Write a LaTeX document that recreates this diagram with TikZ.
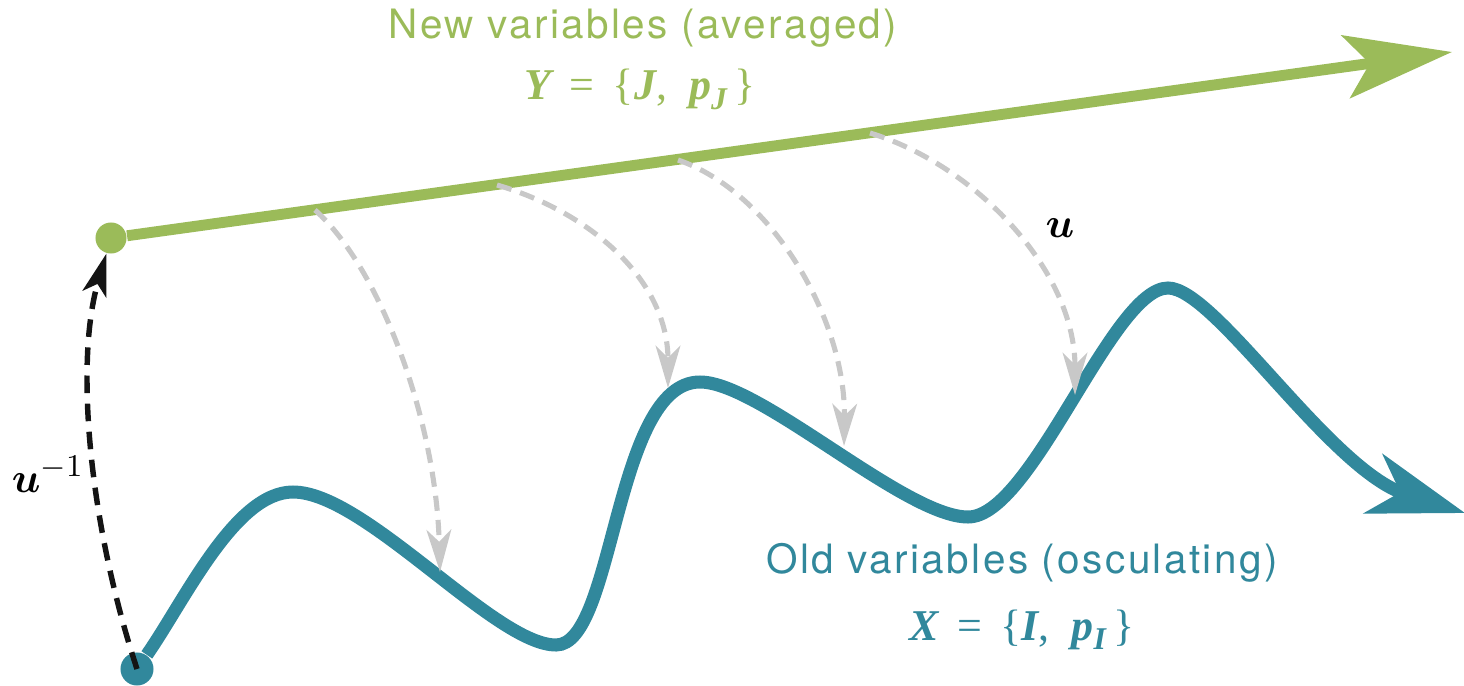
\documentclass[tikz,border=0pt]{standalone}
\usepackage{amsmath}
\usepackage{fontspec}
\setsansfont{TeX Gyre Heros}
\newfontfamily\tms{Liberation Serif}
\usetikzlibrary{arrows.meta}
\definecolor{cgreen}{RGB}{155,187,89}
\definecolor{cteal}{RGB}{49,136,156}
\definecolor{cgrey}{RGB}{200,200,200}
\definecolor{cblack}{RGB}{20,20,20}
\newcommand{\bi}[1]{{\bfseries\itshape #1}}
\newcommand{\bisub}[1]{\raisebox{-0.45ex}{\fontsize{9}{10}\selectfont\bi{#1}}}
\begin{document}
\begin{tikzpicture}[x=0.01cm,y=-0.01cm,
  dotnode/.style={circle,fill=#1,inner sep=0pt,minimum size=0.31cm},
  titletext/.style={anchor=base,font=\sffamily\fontsize{11.5}{13}\selectfont\addfontfeature{LetterSpace=6}},
  mathtext/.style={anchor=base,font=\tms\fontsize{12.5}{14}\selectfont},
  mapline/.style={draw=cgrey,line width=1.45pt,dash pattern=on 4.3pt off 2.6pt,
    -{Stealth[length=12pt,width=7pt,inset=3.4pt]}},
  invline/.style={draw=cblack,line width=1.55pt,dash pattern=on 5pt off 3pt,
    -{Stealth[length=12pt,width=7pt,inset=3pt]}},
  newline/.style={draw=cgreen,line width=3.1pt,
    -{Stealth[length=30.4pt,width=17.9pt,inset=6.8pt]}},
  oldline/.style={draw=cteal,line width=3.7pt,
    -{Stealth[length=27.3pt,width=17.6pt,inset=8pt]}}
]
\useasboundingbox (0,0) rectangle (1464,685);

% end points
\node[dotnode=cgreen] (gdot) at (111,238) {};
\node[dotnode=cteal,minimum size=0.33cm] (tdot) at (137,669) {};
\coordinate (gtip) at (1452,52);
\coordinate (ttip) at (1465,513);

% old variables curve
\draw[oldline] (tdot) .. controls (185,600) and (235,492) .. (293,492)
  .. controls (365,492) and (495,645) .. (556,645)
  .. controls (615,645) and (614,382) .. (700,382)
  .. controls (760,382) and (905,517) .. (968,517)
  .. controls (1032,517) and (1112,288) .. (1168,288)
  .. controls (1215,288) and (1330,470) .. (ttip);

% new variables line
\draw[newline] (gdot) -- (gtip);

% mapping arrows u
\coordinate (s1) at (315,210);
\coordinate (s2) at (497,185);
\coordinate (s3) at (678,160);
\coordinate (s4) at (870,133);
\coordinate (e1) at (440,572);
\coordinate (e2) at (668,388);
\coordinate (e3) at (844,446);
\coordinate (e4) at (1075,395);
\draw[mapline] (s1) .. controls (380,268) and (436,420) .. (e1);
\draw[mapline] (s2) .. controls (590,212) and (668,280) .. (e2);
\draw[mapline] (s3) .. controls (772,192) and (846,320) .. (e3);
\draw[mapline] (s4) .. controls (975,165) and (1075,270) .. (e4);

% inverse map
\draw[invline] (tdot.center) .. controls (88,520) and (75,360) .. (gdot);

% labels
\node[anchor=base] (ulab) at (1060,238) {\fontsize{12.5}{14}\selectfont$\boldsymbol{u}$};
\node[anchor=base] (uinv) at (48,492) {\fontsize{12.5}{14}\selectfont$\boldsymbol{u}^{-1}$};

\node[titletext,text=cgreen] (tnew) at (643,39) {New variables (averaged)};
\node[mathtext,text=cgreen] (mnew) at (640,100) {\bi{Y}\ \,=\ \,\{\bi{J},\ \ \bi{p}\bisub{J}\,\}};
\node[titletext,text=cteal] (told) at (1022,573) {Old variables (osculating)};
\node[mathtext,text=cteal] (mold) at (1022,640) {\bi{X}\ \,=\ \,\{\bi{I},\ \ \bi{p}\bisub{I}\,\}};
\end{tikzpicture}
\end{document}
